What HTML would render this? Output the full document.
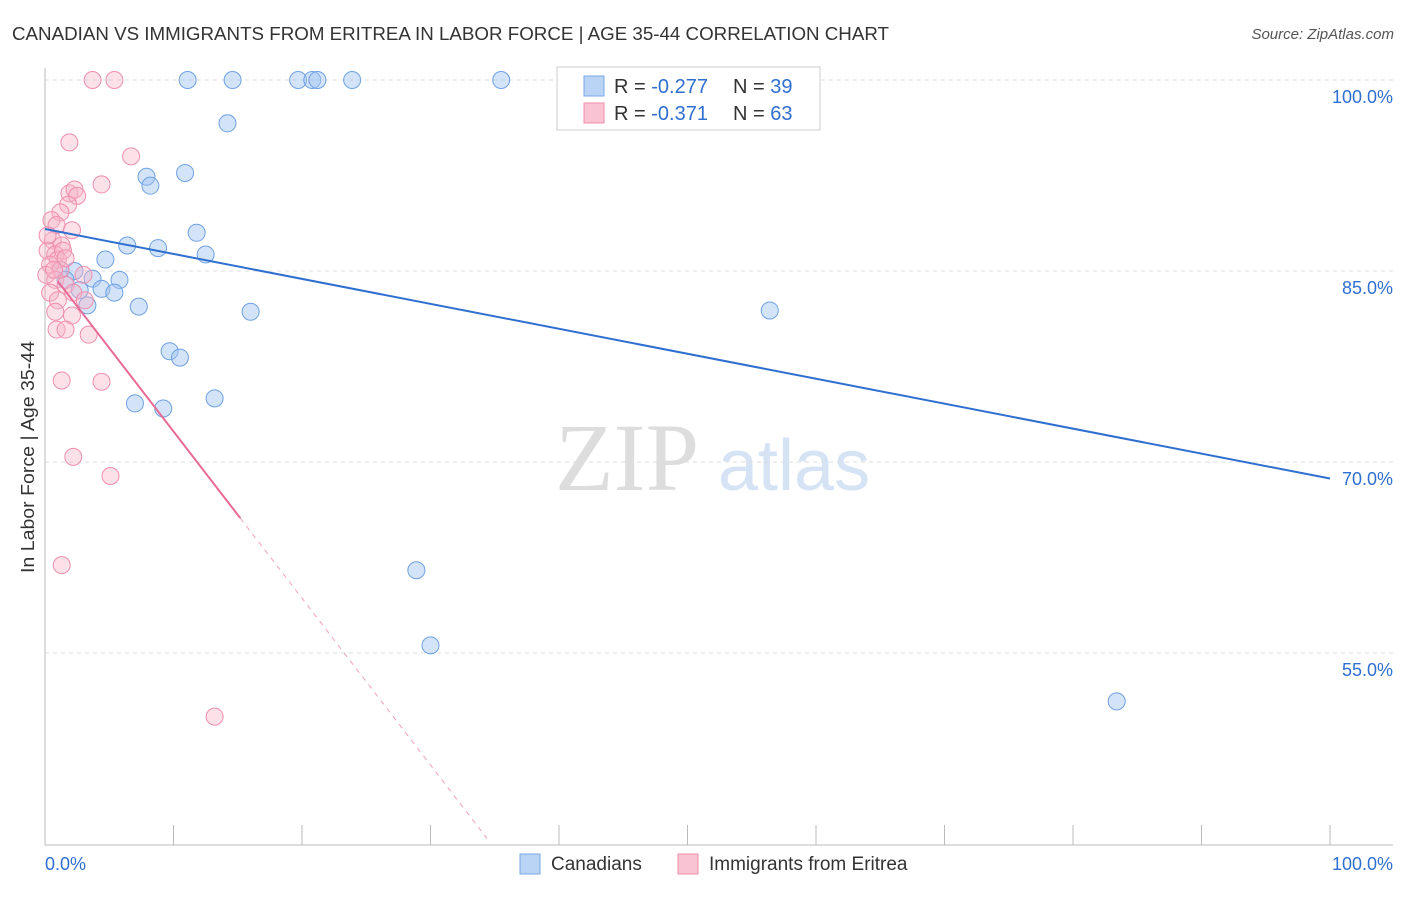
<!DOCTYPE html>
<html><head><meta charset="utf-8"><style>
body{margin:0;background:#fff;font-family:"Liberation Sans",sans-serif}
</style></head><body>
<svg width="1406" height="892" xmlns="http://www.w3.org/2000/svg" id="chart">
<text x="12" y="40" font-size="18" fill="#333" textLength="877" lengthAdjust="spacingAndGlyphs">CANADIAN VS IMMIGRANTS FROM ERITREA IN LABOR FORCE | AGE 35-44 CORRELATION CHART</text>
<text x="1394" y="39" font-size="15" fill="#555" font-style="italic" text-anchor="end">Source: ZipAtlas.com</text>
<text x="555" y="490" font-size="96" fill="#ddd" font-family="Liberation Serif,serif">ZIP</text>
<text x="718" y="490" font-size="72" fill="#d5e3f5">atlas</text>
<text transform="translate(34,457) rotate(-90)" font-size="18" fill="#333" text-anchor="middle" textLength="232" lengthAdjust="spacingAndGlyphs">In Labor Force | Age 35-44</text>
<g id="grid"></g><g id="pts"></g><g id="lines"></g>
<g>
<rect x="557" y="67" width="263" height="63" fill="#fff" stroke="#ccc"/>
<rect x="584" y="76" width="20" height="20" fill="#b9d4f5" stroke="#7aaae6"/>
<rect x="584" y="103" width="20" height="20" fill="#f9c3d3" stroke="#f08fae"/>
<text x="614" y="93" font-size="20" fill="#333">R = <tspan fill="#2f6fd0">-0.277</tspan></text>
<text x="733" y="93" font-size="20" fill="#333">N = <tspan fill="#2f6fd0">39</tspan></text>
<text x="614" y="120" font-size="20" fill="#333">R = <tspan fill="#2f6fd0">-0.371</tspan></text>
<text x="733" y="120" font-size="20" fill="#333">N = <tspan fill="#2f6fd0">63</tspan></text>
</g>
<g>
<rect x="520" y="854" width="20" height="20" fill="#b9d4f5" stroke="#7aaae6"/>
<text x="551" y="870" font-size="19" fill="#333">Canadians</text>
<rect x="678" y="854" width="20" height="20" fill="#f9c3d3" stroke="#f08fae"/>
<text x="709" y="870" font-size="19" fill="#333">Immigrants from Eritrea</text>
</g>
</svg>
<script>
const yTicks=[100,85,70,55];
const yTickLabels=["100.0%","85.0%","70.0%","55.0%"];
const xTickLabels=["0.0%","100.0%"];
const blueX=[11.1,14.6,19.7,20.8,21.2,23.9,35.5,40.9,14.2,7.9,8.2,10.9,11.8,6.4,8.8,12.5,4.7,2.3,3.7,5.8,4.4,5.4,2.7,3.3,7.3,16.0,56.4,9.7,10.5,7.0,9.2,13.2,28.9,30.0,83.4,1.2,1.6];
const blueY=[100,100,100,100,100,100,100,100,96.6,92.4,91.7,92.7,88.0,87.0,86.8,86.3,85.9,85.0,84.4,84.3,83.6,83.3,83.5,82.3,82.2,81.8,81.9,78.7,78.2,74.6,74.2,75.0,61.5,55.6,51.2,85.1,84.3];
const pinkX=[3.7,5.4,1.9,6.7,4.4,1.9,2.3,2.5,1.8,1.2,0.5,0.9,2.1,0.6,1.3,0.2,0.8,1.0,0.4,1.2,0.1,0.8,1.6,0.4,1.0,2.2,3.0,3.1,0.8,2.1,0.9,1.6,3.4,1.3,4.4,2.2,5.1,1.3,13.2,1.4,1.6,0.2,0.7];
const pinkY=[100,100,95.1,94.0,91.8,91.1,91.4,90.9,90.2,89.6,89.0,88.6,88.2,87.4,87.0,86.6,86.3,85.9,85.5,85.1,84.7,84.3,83.9,83.3,82.7,83.3,84.7,82.7,81.8,81.5,80.4,80.4,80.0,76.4,76.3,70.4,68.9,61.9,50.0,86.6,86.0,87.8,85.1];
const blueTrend=[88.3,68.7];
const pinkTrend=[85.5,-1.31,15.2,34.4];
const NS="http://www.w3.org/2000/svg";
const sx=v=>45+v*12.85, sy=v=>80+(100-v)*12.733;
function mk(t,a,p){const e=document.createElementNS(NS,t);for(const k in a)e.setAttribute(k,a[k]);document.getElementById(p).appendChild(e);return e;}
yTicks.forEach((t,i)=>{
 let l=mk('line',{x1:45,x2:1393,y1:sy(t),y2:sy(t),stroke:'#ddd','stroke-dasharray':'4,4'},'grid');
 
 
 let tx=mk('text',{x:1393,y:sy(t)+23,'font-size':18,fill:'#2f6fd0','text-anchor':'end'},'grid');tx.textContent=yTickLabels[i];
 
 
});
let ax=mk('line',{x1:45,x2:45,y1:68,y2:845,stroke:'#bbb'},'grid');


let bx=mk('line',{x1:45,x2:1393,y1:845,y2:845,stroke:'#bbb'},'grid');


for(let i=0;i<=10;i++){let t=mk('line',{x1:sx(i*10),x2:sx(i*10),y1:825,y2:845,stroke:'#bbb'},'grid');
 
 }
[[0,'start',45],[100,'end',1393]].forEach((d,i)=>{let t=mk('text',{x:d[2],y:870,'font-size':18,fill:'#2f6fd0','text-anchor':d[1]},'grid');t.textContent=xTickLabels[i];
 
 });
blueX.forEach((x,i)=>{let c=mk('circle',{cx:sx(x),cy:sy(blueY[i]),r:8.5,fill:'rgba(160,196,240,0.45)',stroke:'#6fa1e3','stroke-width':1},'pts');
 
 });
pinkX.forEach((x,i)=>{let c=mk('circle',{cx:sx(x),cy:sy(pinkY[i]),r:8.5,fill:'rgba(248,180,200,0.4)',stroke:'#ef8fae','stroke-width':1},'pts');
 
 });
let bl=mk('line',{x1:sx(0),y1:sy(blueTrend[0]),x2:sx(100),y2:sy(blueTrend[1]),stroke:'#2f6fd0','stroke-width':2},'lines');


const pf=x=>pinkTrend[0]+pinkTrend[1]*x;
let p1=mk('line',{x1:sx(1),y1:sy(pf(1)),x2:sx(pinkTrend[2]),y2:sy(pf(pinkTrend[2])),stroke:'#e86a96','stroke-width':2},'lines');


let p2=mk('line',{x1:sx(pinkTrend[2]),y1:sy(pf(pinkTrend[2])),x2:sx(pinkTrend[3]),y2:sy(pf(pinkTrend[3])),stroke:'#f0a0bc','stroke-width':1,'stroke-dasharray':'5,5'},'lines');


</script>
</body></html>
